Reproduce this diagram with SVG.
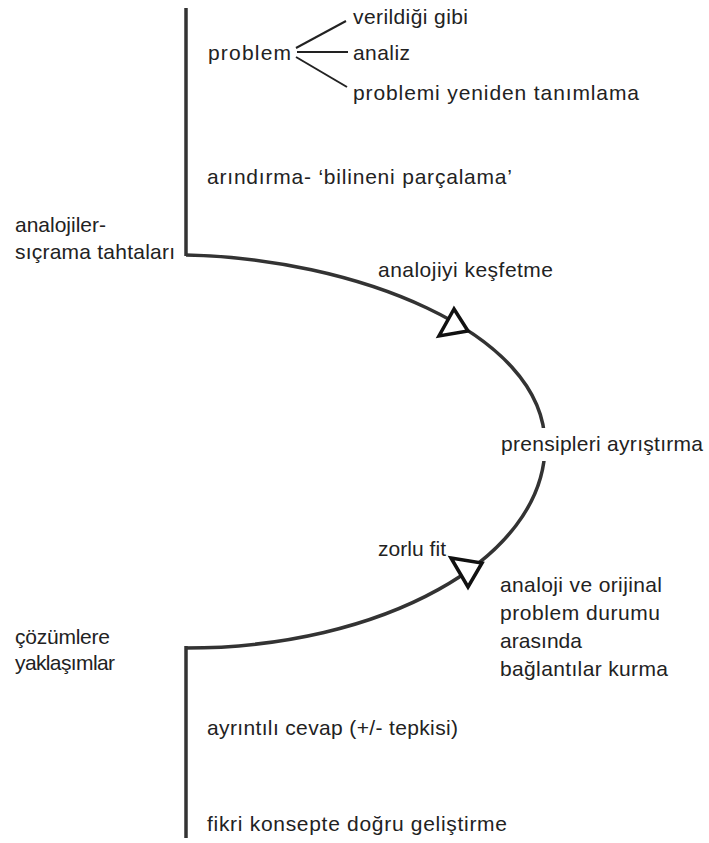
<svg xmlns="http://www.w3.org/2000/svg" width="709" height="843" viewBox="0 0 709 843">
<style>
text{font-family:"Liberation Sans",Arial,sans-serif;font-size:21px;fill:#222;}
.ln{stroke:#333;stroke-width:3.5;fill:none;}
.thin{stroke:#222;stroke-width:2;fill:none;}
.tri{stroke:#111;stroke-width:3.5;fill:#fff;stroke-linejoin:miter;}
</style>
<rect width="709" height="843" fill="#fff"/>
<g id="connectors">
<path class="ln" d="M186,8 V256"/>
<path class="ln" d="M186,255 C350,258 545,330 545,445 C545,560 380,648 186,648"/>
<path class="ln" d="M186,646 V838"/>
<path class="thin" d="M296,48 L346,21"/>
<path class="thin" d="M297,52 L348,52"/>
<path class="thin" d="M296,57 L347,87"/>
</g>
<g id="tri1"><polygon class="tri" points="454,309 439,336 468,331"/></g>
<g id="tri2"><polygon class="tri" points="451,558 482,563 468,587"/></g>
<g id="n-problem"><text x="208" y="60" textLength="83" lengthAdjust="spacing">problem</text></g>
<g id="n-verildigi"><text x="353" y="24" textLength="115" lengthAdjust="spacing">verildiği gibi</text></g>
<g id="n-analiz"><text x="353" y="60" textLength="57" lengthAdjust="spacing">analiz</text></g>
<g id="n-yeniden"><text x="353" y="100" textLength="286" lengthAdjust="spacing">problemi yeniden tanımlama</text></g>
<g id="n-arindirma"><text x="207" y="184" textLength="305" lengthAdjust="spacing">arındırma- ‘bilineni parçalama’</text></g>
<g id="n-analojiler"><text x="15" y="232" textLength="91" lengthAdjust="spacing">analojiler-</text><text x="15" y="259" textLength="160" lengthAdjust="spacing">sıçrama tahtaları</text></g>
<g id="n-kesfetme"><text x="378" y="277" textLength="175" lengthAdjust="spacing">analojiyi keşfetme</text></g>
<g id="n-prensipleri"><rect x="497" y="428" width="212" height="33" fill="#fff"/><text x="501" y="451" textLength="202" lengthAdjust="spacing">prensipleri ayrıştırma</text></g>
<g id="n-zorlu"><text x="378" y="556" textLength="68" lengthAdjust="spacing">zorlu fit</text></g>
<g id="n-baglantilar"><text x="500" y="592" textLength="162" lengthAdjust="spacing">analoji ve orijinal</text><text x="500" y="620" textLength="160" lengthAdjust="spacing">problem durumu</text><text x="500" y="648" textLength="82" lengthAdjust="spacing">arasında</text><text x="500" y="676" textLength="168" lengthAdjust="spacing">bağlantılar kurma</text></g>
<g id="n-cozumlere"><text x="15" y="644" textLength="95" lengthAdjust="spacing">çözümlere</text><text x="15" y="670" textLength="100" lengthAdjust="spacing">yaklaşımlar</text></g>
<g id="n-cevap"><text x="207" y="735" textLength="251" lengthAdjust="spacing">ayrıntılı cevap (+/- tepkisi)</text></g>
<g id="n-fikri"><text x="207" y="831" textLength="300" lengthAdjust="spacing">fikri konsepte doğru geliştirme</text></g>
</svg>
